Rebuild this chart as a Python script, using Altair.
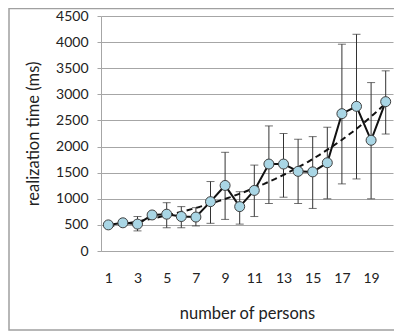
import altair as alt
import pandas as pd

persons = list(range(1, 21))
mean_ms = [500, 540, 515, 690, 705, 660, 650, 945, 1255, 850,
           1160, 1665, 1665, 1525, 1515, 1690, 2630, 2770, 2120, 2860]
high_ms = [540, 590, 660, 730, 925, 850, 830, 1330, 1890, 1135,
           1645, 2395, 2250, 2140, 2190, 2370, 3960, 4150, 3225, 3450]
low_ms = [460, 490, 385, 650, 445, 445, 480, 530, 605, 515,
          660, 910, 1030, 910, 815, 1000, 1285, 1380, 1000, 2240]
x_ticks = [1, 3, 5, 7, 9, 11, 13, 15, 17, 19]
y_ticks = [0, 500, 1000, 1500, 2000, 2500, 3000, 3500, 4000, 4500]

df = pd.DataFrame({"x": persons, "y": mean_ms, "hi": high_ms, "lo": low_ms})

FONT = "Lato"
GRID = "#a6a6a6"
TXT = "#222222"

xs = alt.Scale(domain=[0.5, 20.5], nice=False, zero=False)
ys = alt.Scale(domain=[0, 4500], nice=False)

xaxis = alt.Axis(values=x_ticks, grid=False, ticks=False, tickSize=0,
                 labelOverlap=False, format="d",
                 domainColor=GRID, labelPadding=20, labelFontSize=14,
                 labelFont=FONT, labelColor=TXT, title="number of persons",
                 titleFont=FONT, titleFontSize=16.5, titleFontWeight="normal",
                 titleColor=TXT, titlePadding=20)
yaxis = alt.Axis(values=y_ticks, grid=True, gridColor=GRID, tickColor=GRID,
                 tickSize=4, domainColor=GRID, labelPadding=9,
                 labelOverlap=False, format="d",
                 labelFontSize=14, labelFont=FONT, labelColor=TXT,
                 title="realization time (ms)", titleFont=FONT,
                 titleFontSize=16.5, titleFontWeight="normal", titleColor=TXT,
                 titlePadding=14)

X = alt.X("x:Q", scale=xs, axis=xaxis)
Y = alt.Y("y:Q", scale=ys, axis=yaxis)

base = alt.Chart(df)

rule = base.mark_rule(color="#333333", strokeWidth=1).encode(
    x=X, y=alt.Y("lo:Q", scale=ys, axis=yaxis), y2="hi:Q"
)
cap_hi = base.mark_tick(color="#333333", thickness=1, size=8, orient="horizontal").encode(
    x=X, y=alt.Y("hi:Q", scale=ys, axis=yaxis)
)
cap_lo = base.mark_tick(color="#333333", thickness=1, size=8, orient="horizontal").encode(
    x=X, y=alt.Y("lo:Q", scale=ys, axis=yaxis)
)

# exponential trend (least squares on log values, like a spreadsheet trendline)
trend = (
    base.transform_calculate(ly="log(datum.y)")
    .transform_regression("x", "ly", method="poly", order=1, extent=[1, 20])
    .transform_calculate(y="exp(datum.ly)")
    .mark_line(color="#111111", strokeWidth=2, strokeDash=[6, 4])
    .encode(x=X, y=Y)
)

line = base.mark_line(color="#111111", strokeWidth=2).encode(x=X, y=Y)

pts = base.mark_point(filled=True, size=100, fill="#a9d6e5", stroke="#404040",
                      strokeWidth=1, opacity=1, fillOpacity=1).encode(x=X, y=Y)

border = alt.Chart(pd.DataFrame({"a": [0]})).mark_rect(
    fillOpacity=0, stroke="#a0a0a0", strokeWidth=1.5
).encode(x=alt.value(-92), x2=alt.value(400), y=alt.value(-7.5), y2=alt.value(314))

chart = alt.layer(border, rule, cap_hi, cap_lo, trend, line, pts).properties(
    width=292, height=235,
    padding={"left": 93, "top": 8, "right": 1, "bottom": 80},
    autosize=alt.AutoSizeParams(type="none"),
).configure_view(stroke=None)

chart.save("out.html", embed_options={"renderer": "svg", "actions": False})
